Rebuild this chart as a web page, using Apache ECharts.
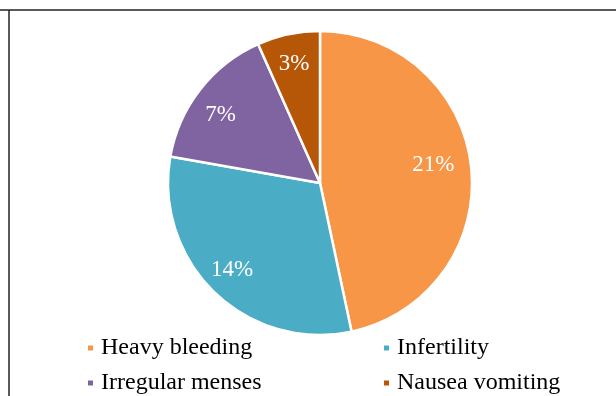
<!DOCTYPE html>
<html>
<head>
<meta charset="utf-8">
<script src="https://cdn.jsdelivr.net/npm/echarts@6/dist/echarts.min.js"></script>
<style>
  html, body { margin: 0; padding: 0; background: #fff; }
  #chart { width: 616px; height: 396px; }
</style>
</head>
<body>
<div id="chart"></div>
<script>
// Symptom counts shown in the pie
const categories = ['Heavy bleeding', 'Infertility', 'Irregular menses', 'Nausea vomiting'];
const values = [21, 14, 7, 3];
const colors = ['#F79646', '#4BACC6', '#8064A2', '#B65708'];

const FONT = '"Liberation Serif", "Times New Roman", serif';

// legend laid out as a 2x2 grid: [left, top] of each entry
const legendSlots = [[86, 335], [382, 335], [86, 370], [382, 370]];
// small nudges for the percentage labels
const labelNudges = [[-11, -5], [-1, -3], [-1, 9], [0, 3]];

const pieData = categories.map((name, i) => ({
  name: name,
  value: values[i],
  itemStyle: { color: colors[i] }
}));

const chart = echarts.init(document.getElementById('chart'), null, { renderer: 'canvas' });

const legends = categories.map((name, i) => ({
  orient: 'horizontal',
  left: legendSlots[i][0],
  top: legendSlots[i][1],
  padding: 0,
  itemWidth: 7,
  itemHeight: 7,
  icon: 'rect',
  selectedMode: false,
  data: [name],
  textStyle: {
    fontFamily: FONT,
    fontSize: 24,
    lineHeight: 26,
    color: '#000',
    padding: [0, 0, 0, 2]
  }
}));

chart.setOption({
  animation: false,
  backgroundColor: '#fff',
  legend: legends,
  graphic: [
    { type: 'line', shape: { x1: 0, y1: 10, x2: 616, y2: 10 }, style: { stroke: '#222', lineWidth: 1.5 } },
    { type: 'line', shape: { x1: 9, y1: 10, x2: 9, y2: 396 }, style: { stroke: '#222', lineWidth: 1.5 } }
  ],
  series: [
    {
      type: 'pie',
      center: [320, 183],
      radius: [0, 152],
      startAngle: 90,
      clockwise: true,
      silent: true,
      itemStyle: { borderColor: '#fff', borderWidth: 2.5 },
      label: { show: false },
      labelLine: { show: false },
      data: pieData
    },
    {
      // transparent ring used only to place the percentage labels near the rim
      type: 'pie',
      center: [320, 183],
      radius: [92, 152],
      startAngle: 90,
      clockwise: true,
      silent: true,
      itemStyle: { color: 'rgba(0,0,0,0)', borderWidth: 0 },
      label: {
        show: true,
        position: 'inside',
        formatter: p => p.value + '%',
        fontFamily: FONT,
        fontSize: 23,
        color: '#fff'
      },
      labelLine: { show: false },
      data: categories.map((name, i) => ({
        name: name,
        value: values[i],
        label: { offset: labelNudges[i] }
      }))
    }
  ]
});
</script>
</body>
</html>
